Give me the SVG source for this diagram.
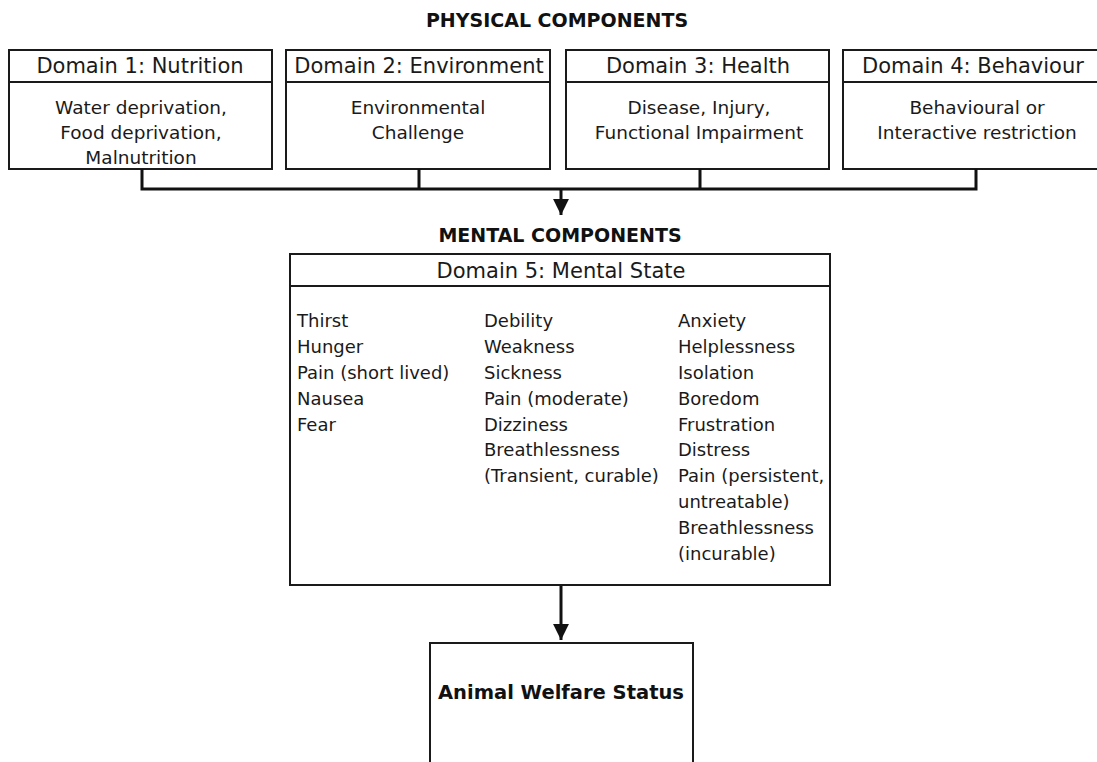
<svg xmlns="http://www.w3.org/2000/svg" width="1097" height="762" viewBox="0 0 1097 762">
<style>
.box{fill:#fff;stroke:#1a1a1a;stroke-width:2}
.div{stroke:#1a1a1a;stroke-width:2}
.title{font-family:"DejaVu Sans",sans-serif;font-weight:bold;font-size:19px;fill:#111;text-anchor:middle}
.hdr{font-family:"DejaVu Sans",sans-serif;font-size:21px;fill:#1a1a1a;text-anchor:middle}
.body{font-family:"DejaVu Sans",sans-serif;font-size:18.5px;fill:#1a1a1a;text-anchor:middle}
.item{font-family:"DejaVu Sans",sans-serif;font-size:18px;fill:#1a1a1a}
.aws{font-family:"DejaVu Sans",sans-serif;font-weight:bold;font-size:19.5px;fill:#111;text-anchor:middle}
.conn{fill:none;stroke:#111;stroke-width:3}
</style>
<defs>
<marker id="arr" viewBox="0 0 10 10" refX="10" refY="5" markerWidth="5.3" markerHeight="5.3" orient="auto" markerUnits="strokeWidth">
<path d="M0,0 L10,5 L0,10 Z" fill="#111"/>
</marker>
</defs>
<rect width="1097" height="762" fill="#fff"/>
<text class="title" x="557" y="27">PHYSICAL COMPONENTS</text>

<g id="domain1">
<rect class="box" x="9" y="50" width="263" height="119"/>
<line class="div" x1="9" y1="82" x2="272" y2="82"/>
<text class="hdr" x="140" y="73">Domain 1: Nutrition</text>
<text class="body" x="141" y="114">Water deprivation,</text>
<text class="body" x="141" y="139">Food deprivation,</text>
<text class="body" x="141" y="164">Malnutrition</text>
</g>
<g id="domain2">
<rect class="box" x="286" y="50" width="264" height="119"/>
<line class="div" x1="286" y1="82" x2="550" y2="82"/>
<text class="hdr" x="419" y="73">Domain 2: Environment</text>
<text class="body" x="418" y="114">Environmental</text>
<text class="body" x="418" y="139">Challenge</text>
</g>
<g id="domain3">
<rect class="box" x="566" y="50" width="263" height="119"/>
<line class="div" x1="566" y1="82" x2="829" y2="82"/>
<text class="hdr" x="698" y="73">Domain 3: Health</text>
<text class="body" x="699" y="114">Disease, Injury,</text>
<text class="body" x="699" y="139">Functional Impairment</text>
</g>
<g id="domain4">
<rect class="box" x="843" y="50" width="262" height="119"/>
<line class="div" x1="843" y1="82" x2="1105" y2="82"/>
<text class="hdr" x="973" y="73">Domain 4: Behaviour</text>
<text class="body" x="977" y="114">Behavioural or</text>
<text class="body" x="977" y="139">Interactive restriction</text>
</g>

<g id="connectors">
<path class="conn" d="M142,169 V189 H976 V169 M419,169 V189 M700,169 V189"/>
<line class="conn" x1="561" y1="189" x2="561" y2="215" marker-end="url(#arr)"/>
<line class="conn" x1="561" y1="585" x2="561" y2="640" marker-end="url(#arr)"/>
</g>

<text class="title" x="560" y="242">MENTAL COMPONENTS</text>

<g id="domain5">
<rect class="box" x="290" y="254" width="540" height="331"/>
<line class="div" x1="290" y1="286" x2="830" y2="286"/>
<text class="hdr" x="561" y="278">Domain 5: Mental State</text>
<text class="item" x="297">
<tspan x="297" y="327">Thirst</tspan>
<tspan x="297" y="353">Hunger</tspan>
<tspan x="297" y="379">Pain (short lived)</tspan>
<tspan x="297" y="405">Nausea</tspan>
<tspan x="297" y="431">Fear</tspan>
</text>
<text class="item" x="484">
<tspan x="484" y="327">Debility</tspan>
<tspan x="484" y="353">Weakness</tspan>
<tspan x="484" y="379">Sickness</tspan>
<tspan x="484" y="405">Pain (moderate)</tspan>
<tspan x="484" y="431">Dizziness</tspan>
<tspan x="484" y="456">Breathlessness</tspan>
<tspan x="484" y="482">(Transient, curable)</tspan>
</text>
<text class="item" x="678">
<tspan x="678" y="327">Anxiety</tspan>
<tspan x="678" y="353">Helplessness</tspan>
<tspan x="678" y="379">Isolation</tspan>
<tspan x="678" y="405">Boredom</tspan>
<tspan x="678" y="431">Frustration</tspan>
<tspan x="678" y="456">Distress</tspan>
<tspan x="678" y="482">Pain (persistent,</tspan>
<tspan x="678" y="508">untreatable)</tspan>
<tspan x="678" y="534">Breathlessness</tspan>
<tspan x="678" y="560">(incurable)</tspan>
</text>
</g>

<g id="animal-welfare-status">
<rect class="box" x="430" y="643" width="263" height="130"/>
<text class="aws" x="561" y="699">Animal Welfare Status</text>
</g>
</svg>
